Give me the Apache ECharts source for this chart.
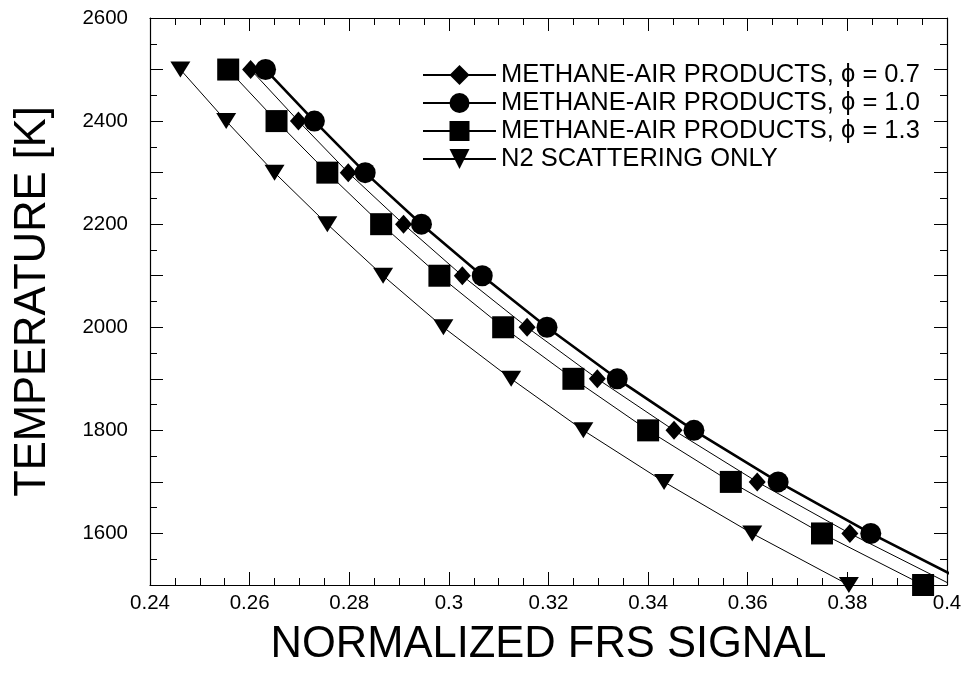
<!DOCTYPE html>
<html>
<head>
<meta charset="utf-8">
<script src="https://cdn.jsdelivr.net/npm/echarts@6/dist/echarts.min.js"></script>
<style>
  html, body { margin: 0; padding: 0; background: #fff; }
  #chart { width: 969px; height: 681px; }
</style>
</head>
<body>
<div id="chart"></div>
<script>
// Temperature levels (K) shared by every series
const temps = [2500, 2400, 2300, 2200, 2100, 2000, 1900, 1800, 1700, 1600, 1500];

// Normalized FRS signal for each temperature
const phi07 = [0.2602, 0.2698, 0.2798, 0.2909, 0.3027, 0.3157, 0.3298, 0.3452, 0.3619, 0.3805, 0.4010];
const phi10 = [0.2632, 0.2730, 0.2832, 0.2945, 0.3067, 0.3197, 0.3338, 0.3492, 0.3661, 0.3847, 0.4050];
const phi13 = [0.2557, 0.2654, 0.2756, 0.2864, 0.2981, 0.3109, 0.3250, 0.3400, 0.3566, 0.3749, 0.3952];
const n2only = [0.2461, 0.2553, 0.2650, 0.2756, 0.2868, 0.2989, 0.3125, 0.3270, 0.3432, 0.3609, 0.3803];

const seriesNames = [
  'METHANE-AIR PRODUCTS, \u03d5 = 0.7',
  'METHANE-AIR PRODUCTS, \u03d5 = 1.0',
  'METHANE-AIR PRODUCTS, \u03d5 = 1.3',
  'N2 SCATTERING ONLY'
];

const FONT = '"Liberation Sans", Arial, sans-serif';
const downTriangle = 'path://M0,0 L20,0 L10,16 Z';

function pairs(xs) {
  return xs.map((x, i) => [x, temps[i]]);
}

function makeSeries(name, xs, symbol, size, width) {
  return {
    name: name,
    type: 'line',
    data: pairs(xs),
    symbol: symbol,
    symbolSize: size,
    showSymbol: true,
    clip: true,
    color: '#000',
    lineStyle: { color: '#000', width: width },
    itemStyle: { color: '#000', borderWidth: 0 },
    emphasis: { disabled: true },
    animation: false
  };
}

function axisStyle(minorSplit) {
  return {
    axisLine: { show: true, lineStyle: { color: '#000', width: 1.2 } },
    axisTick: { show: true, inside: true, length: 13, lineStyle: { color: '#000', width: 1 } },
    minorTick: { show: true, splitNumber: minorSplit, length: 7, lineStyle: { color: '#000', width: 1 } },
    splitLine: { show: false },
    minorSplitLine: { show: false }
  };
}

const chart = echarts.init(document.getElementById('chart'), null, { renderer: 'canvas' });

chart.setOption({
  backgroundColor: '#fff',
  animation: false,
  grid: { left: 150, right: 22, top: 18, bottom: 96, containLabel: false, outerBoundsMode: 'none' },
  legend: {
    orient: 'vertical',
    left: 417,
    top: 57,
    itemWidth: 73,
    itemHeight: 25,
    itemGap: 2,
    textStyle: { fontFamily: FONT, fontSize: 25.5, lineHeight: 26, color: '#000', padding: [0, 0, 0, 0] },
    data: seriesNames
  },
  xAxis: [
    Object.assign({
      type: 'value', position: 'bottom', min: 0.24, max: 0.4, interval: 0.02,
      name: 'NORMALIZED FRS SIGNAL', nameLocation: 'middle', nameGap: 38,
      nameTextStyle: { fontFamily: FONT, fontSize: 43.5, color: '#000' },
      axisLabel: { show: true, margin: 8, fontFamily: FONT, fontSize: 20.5, color: '#000' }
    }, axisStyle(4)),
    Object.assign({
      type: 'value', position: 'top', min: 0.24, max: 0.4, interval: 0.02,
      axisLabel: { show: false }
    }, axisStyle(4))
  ],
  yAxis: [
    Object.assign({
      type: 'value', position: 'left', min: 1500, max: 2600, interval: 100,
      name: 'TEMPERATURE [K]', nameLocation: 'middle', nameGap: 95, nameRotate: 90,
      nameTextStyle: { fontFamily: FONT, fontSize: 43.5, color: '#000' },
      axisLabel: {
        show: true, margin: 22, fontFamily: FONT, fontSize: 20.5, color: '#000',
        formatter: v => (v % 200 === 0 ? String(v) : '')
      }
    }, axisStyle(2)),
    Object.assign({
      type: 'value', position: 'right', min: 1500, max: 2600, interval: 100,
      axisLabel: { show: false }
    }, axisStyle(2))
  ],
  series: [
    makeSeries(seriesNames[0], phi07, 'diamond', [17, 19], 1),
    makeSeries(seriesNames[1], phi10, 'circle', 21, 2.6),
    makeSeries(seriesNames[2], phi13, 'rect', 22, 1),
    makeSeries(seriesNames[3], n2only, downTriangle, [20, 16], 1)
  ]
});
</script>
</body>
</html>
